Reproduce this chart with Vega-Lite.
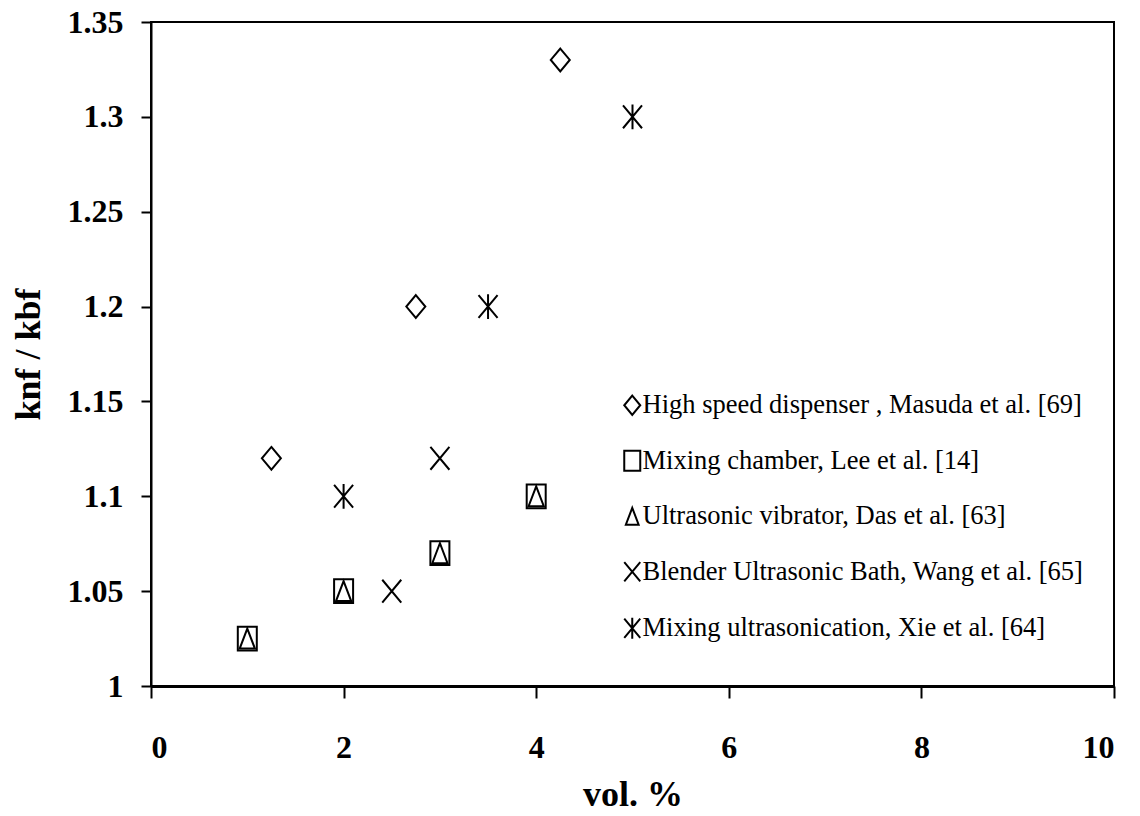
{
  "$schema": "https://vega.github.io/schema/vega-lite/v6.json",
  "width": 963,
  "height": 664,
  "autosize": {"type": "none"},
  "padding": {"left": 151, "top": 22, "right": 26, "bottom": 130},
  "background": "white",
  "data": {
    "values": [
      {"vol": 1.25, "ratio": 1.12, "method": "High speed dispenser , Masuda et al. [69]"},
      {"vol": 2.75, "ratio": 1.2, "method": "High speed dispenser , Masuda et al. [69]"},
      {"vol": 4.25, "ratio": 1.33, "method": "High speed dispenser , Masuda et al. [69]"},
      {"vol": 1, "ratio": 1.025, "method": "Mixing chamber, Lee et al. [14]"},
      {"vol": 2, "ratio": 1.05, "method": "Mixing chamber, Lee et al. [14]"},
      {"vol": 3, "ratio": 1.07, "method": "Mixing chamber, Lee et al. [14]"},
      {"vol": 4, "ratio": 1.1, "method": "Mixing chamber, Lee et al. [14]"},
      {"vol": 1, "ratio": 1.025, "method": "Ultrasonic vibrator, Das et al. [63]"},
      {"vol": 2, "ratio": 1.05, "method": "Ultrasonic vibrator, Das et al. [63]"},
      {"vol": 3, "ratio": 1.07, "method": "Ultrasonic vibrator, Das et al. [63]"},
      {"vol": 4, "ratio": 1.1, "method": "Ultrasonic vibrator, Das et al. [63]"},
      {"vol": 2.5, "ratio": 1.05, "method": "Blender Ultrasonic Bath, Wang et al. [65]"},
      {"vol": 3, "ratio": 1.12, "method": "Blender Ultrasonic Bath, Wang et al. [65]"},
      {"vol": 2, "ratio": 1.1, "method": "Mixing ultrasonication, Xie et al. [64]"},
      {"vol": 3.5, "ratio": 1.2, "method": "Mixing ultrasonication, Xie et al. [64]"},
      {"vol": 5, "ratio": 1.3, "method": "Mixing ultrasonication, Xie et al. [64]"}
    ]
  },
  "mark": {"type": "point", "filled": false, "color": "black", "strokeWidth": 2, "size": 361, "opacity": 1},
  "encoding": {
    "x": {
      "field": "vol",
      "type": "quantitative",
      "scale": {"domain": [0, 10], "nice": false, "zero": false},
      "axis": {
        "title": "vol. %",
        "values": [0, 2, 4, 6, 8, 10],
        "format": "d",
        "grid": false,
        "domainColor": "black",
        "domainWidth": 3,
        "tickColor": "black",
        "tickWidth": 2,
        "tickSize": 12,
        "labelPadding": 34,
        "labelFont": "Liberation Serif",
        "labelFontWeight": "bold",
        "labelFontSize": 32,
        "labelColor": "black",
        "titleFont": "Liberation Serif",
        "titleFontWeight": "bold",
        "titleFontSize": 36,
        "titleColor": "black",
        "titlePadding": 14
      }
    },
    "y": {
      "field": "ratio",
      "type": "quantitative",
      "scale": {"domain": [1, 1.35], "nice": false, "zero": false},
      "axis": {
        "title": "knf / kbf",
        "values": [1, 1.05, 1.1, 1.15, 1.2, 1.25, 1.3, 1.35],
        "format": "~g",
        "grid": false,
        "domainColor": "black",
        "domainWidth": 2,
        "tickColor": "black",
        "tickWidth": 2,
        "tickSize": 10,
        "labelPadding": 18,
        "labelFont": "Liberation Serif",
        "labelFontWeight": "bold",
        "labelFontSize": 32,
        "labelColor": "black",
        "titleFont": "Liberation Serif",
        "titleFontWeight": "bold",
        "titleFontSize": 36,
        "titleColor": "black",
        "titlePadding": 20
      }
    },
    "shape": {
      "field": "method",
      "type": "nominal",
      "scale": {
        "domain": [
          "High speed dispenser , Masuda et al. [69]",
          "Mixing chamber, Lee et al. [14]",
          "Ultrasonic vibrator, Das et al. [63]",
          "Blender Ultrasonic Bath, Wang et al. [65]",
          "Mixing ultrasonication, Xie et al. [64]"
        ],
        "range": [
          "M0,-1.2L1,0L0,1.2L-1,0Z",
          "M-1,-1.25H1V1.25H-1Z",
          "M0,-1.05L0.8,1.05L-0.8,1.05Z",
          "M-1,-1.2L1,1.2M1,-1.2L-1,1.2",
          "M-1,-1.2L1,1.2M1,-1.2L-1,1.2M0,-1.3L0,1.3"
        ]
      },
      "legend": {
        "title": null,
        "orient": "none",
        "legendX": 468,
        "legendY": 370,
        "padding": 0,
        "symbolSize": 256,
        "symbolStrokeWidth": 2,
        "symbolStrokeColor": "black",
        "symbolFillColor": "transparent",
        "labelFont": "Liberation Serif",
        "labelFontSize": 26.5,
        "labelColor": "black",
        "labelOffset": -3,
        "labelLimit": 600,
        "rowPadding": 27.5
      }
    }
  },
  "config": {
    "view": {"stroke": "black", "strokeWidth": 2}
  }
}
